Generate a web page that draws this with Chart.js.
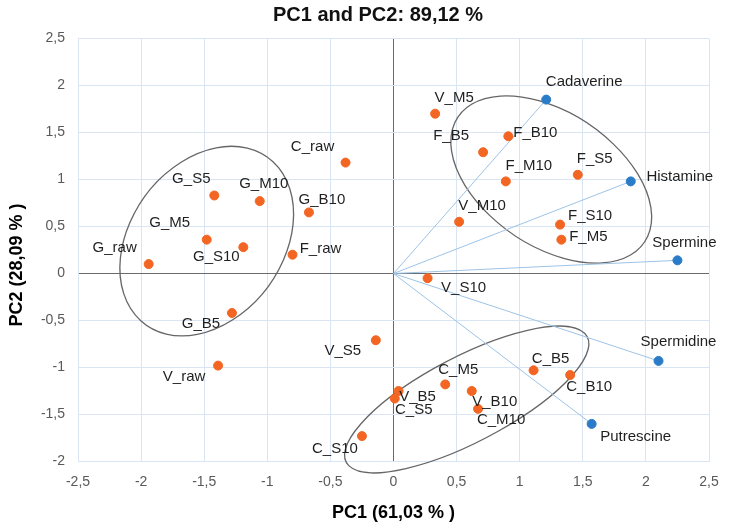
<!DOCTYPE html>
<html>
<head>
<meta charset="utf-8">
<script src="https://cdn.jsdelivr.net/npm/chart.js@4.4.0/dist/chart.umd.min.js"></script>
<style>
  html, body { margin: 0; padding: 0; background: #fff; }
  #wrap { width: 729px; height: 532px; }
</style>
</head>
<body>
<div id="wrap"><canvas id="pca"></canvas></div>
<script>
// sample scores
const sampleNames = ['G_raw', 'G_M5', 'G_S5', 'G_M10', 'G_S10', 'G_B5', 'G_B10', 'F_raw', 'C_raw', 'V_raw',
  'V_S5', 'V_B5', 'C_S5', 'C_M5', 'V_B10', 'C_M10', 'C_B5', 'C_B10', 'C_S10', 'V_S10',
  'V_M10', 'V_M5', 'F_B5', 'F_B10', 'F_M10', 'F_S5', 'F_S10', 'F_M5'];
const samplePC1 = [-1.94, -1.48, -1.42, -1.06, -1.19, -1.28, -0.67, -0.80, -0.38, -1.39,
  -0.14, 0.04, 0.01, 0.41, 0.62, 0.67, 1.11, 1.40, -0.25, 0.27,
  0.52, 0.33, 0.71, 0.91, 0.89, 1.46, 1.32, 1.33];
const samplePC2 = [0.10, 0.36, 0.83, 0.77, 0.28, -0.42, 0.65, 0.20, 1.18, -0.98,
  -0.71, -1.25, -1.33, -1.18, -1.25, -1.44, -1.03, -1.08, -1.73, -0.05,
  0.55, 1.70, 1.29, 1.46, 0.98, 1.05, 0.52, 0.36];

// loadings
const varNames = ['Cadaverine', 'Histamine', 'Spermine', 'Spermidine', 'Putrescine'];
const varPC1 = [1.21, 1.88, 2.25, 2.10, 1.57];
const varPC2 = [1.85, 0.98, 0.14, -0.93, -1.60];

// axis ticks
const xTicks = [-2.5, -2, -1.5, -1, -0.5, 0, 0.5, 1, 1.5, 2, 2.5];
const yTicks = [-2, -1.5, -1, -0.5, 0, 0.5, 1, 1.5, 2, 2.5];

// group ellipses (data units, angle in degrees)
const ellipseCx = [-1.48, 1.25, 0.58];
const ellipseCy = [0.345, 1.00, -1.34];
const ellipseRx = [1.04, 1.02, 1.17];
const ellipseRy = [0.64, 0.62, 0.42];
const ellipseAngle = [72, -52, 37];

// label placement relative to the marker, in pixels (layout only)
const labelOffset = {
  G_raw: [-34, -16], G_M5: [-37, -17], G_S5: [-23, -17], G_M10: [4, -17], G_S10: [-27, 10],
  G_B5: [-31, 11], G_B10: [13, -13], F_raw: [28, -6], C_raw: [-33, -16], V_raw: [-34, 11],
  V_S5: [-33, 11], V_B5: [19, 6], C_S5: [19, 11], C_M5: [13, -15], V_B10: [23, 11],
  C_M10: [23, 11], C_B5: [17, -11], C_B10: [19, 12], C_S10: [-27, 13], V_S10: [36, 10],
  V_M10: [23, -16], V_M5: [19, -16], F_B5: [-32, -16], F_B10: [27, -3], F_M10: [23, -16],
  F_S5: [17, -16], F_S10: [30, -9], F_M5: [27, -3],
  Cadaverine: [38, -18], Histamine: [49, -5], Spermine: [7, -17], Spermidine: [20, -19], Putrescine: [44, 13]
};

const fmt = v => String(v).replace('.', ',');
Chart.defaults.font.family = '"Liberation Sans", Arial, sans-serif';

const overlay = {
  id: 'overlay',
  beforeDatasetsDraw(chart) {
    const { ctx, scales: { x, y } } = chart;
    const kx = x.getPixelForValue(1) - x.getPixelForValue(0);
    const ky = y.getPixelForValue(1) - y.getPixelForValue(0);
    ctx.save();
    ctx.strokeStyle = '#666666';
    ctx.lineWidth = 1.3;
    ellipseCx.forEach((cx, i) => {
      ctx.save();
      ctx.translate(x.getPixelForValue(cx), y.getPixelForValue(ellipseCy[i]));
      ctx.scale(kx, ky);
      ctx.rotate(ellipseAngle[i] * Math.PI / 180);
      ctx.beginPath();
      ctx.ellipse(0, 0, ellipseRx[i], ellipseRy[i], 0, 0, 2 * Math.PI);
      ctx.restore();
      ctx.stroke();
    });
    ctx.restore();
  },
  afterDatasetsDraw(chart) {
    const { ctx, scales: { x, y }, chartArea } = chart;
    ctx.save();
    ctx.font = '15px "Liberation Sans", Arial, sans-serif';
    ctx.fillStyle = '#1f1f1f';
    ctx.textAlign = 'center';
    ctx.textBaseline = 'middle';
    const put = (name, px, py) => {
      const off = labelOffset[name] || [0, -15];
      ctx.fillText(name, x.getPixelForValue(px) + off[0], y.getPixelForValue(py) + off[1]);
    };
    sampleNames.forEach((n, i) => put(n, samplePC1[i], samplePC2[i]));
    varNames.forEach((n, i) => put(n, varPC1[i], varPC2[i]));

    // y axis title
    ctx.font = 'bold 18px "Liberation Sans", Arial, sans-serif';
    ctx.fillStyle = '#000';
    ctx.translate(17, (chartArea.top + chartArea.bottom) / 2 + 15);
    ctx.rotate(-Math.PI / 2);
    ctx.fillText('PC2 (28,09 % )', 0, 0);
    ctx.restore();
  }
};

const loadingLines = varNames.map((n, i) => ({
  label: n,
  data: [{ x: 0, y: 0 }, { x: varPC1[i], y: varPC2[i] }],
  showLine: true,
  borderColor: '#9dc3e6',
  borderWidth: 1,
  pointRadius: 0
}));

new Chart(document.getElementById('pca'), {
  type: 'scatter',
  data: {
    datasets: [
      {
        label: 'Samples',
        data: sampleNames.map((n, i) => ({ x: samplePC1[i], y: samplePC2[i] })),
        backgroundColor: '#f26522',
        borderColor: '#f26522',
        pointRadius: 4.5
      },
      {
        label: 'Variables',
        data: varNames.map((n, i) => ({ x: varPC1[i], y: varPC2[i] })),
        backgroundColor: '#2a7bc8',
        borderColor: '#2a7bc8',
        pointRadius: 4.5
      },
      ...loadingLines
    ]
  },
  options: {
    responsive: true,
    maintainAspectRatio: false,
    animation: false,
    layout: { padding: { left: 27, right: 0, top: 0, bottom: 0 } },
    plugins: {
      legend: { display: false },
      tooltip: { enabled: false },
      title: {
        display: true,
        text: 'PC1 and PC2: 89,12 %',
        color: '#111',
        font: { size: 20, weight: 'bold' },
        padding: { top: 3, bottom: 11.5 }
      }
    },
    scales: {
      x: {
        type: 'linear',
        min: -2.5,
        max: 2.5,
        afterBuildTicks: s => { s.ticks = xTicks.map(v => ({ value: v })); },
        afterFit: s => { s.height = 70.5; s.paddingRight = 20; },
        ticks: { callback: fmt, color: '#595959', font: { size: 14 }, padding: 12, maxRotation: 0 },
        grid: {
          drawTicks: false,
          color: c => (c.tick && c.tick.value === 0 ? '#6b6b6b' : '#d9e5f3')
        },
        border: { color: '#d9e5f3' },
        title: {
          display: true,
          text: 'PC1 (61,03 % )',
          color: '#000',
          font: { size: 18, weight: 'bold' },
          padding: { top: 0, bottom: 8 }
        }
      },
      y: {
        type: 'linear',
        min: -2,
        max: 2.5,
        afterBuildTicks: s => { s.ticks = yTicks.map(v => ({ value: v })); },
        afterFit: s => { s.width = 51; },
        ticks: { callback: fmt, color: '#595959', font: { size: 14 }, padding: 13 },
        grid: {
          drawTicks: false,
          color: c => (c.tick && c.tick.value === 0 ? '#6b6b6b' : '#d9e5f3')
        },
        border: { color: '#d9e5f3' }
      }
    }
  },
  plugins: [overlay]
});
</script>
</body>
</html>
